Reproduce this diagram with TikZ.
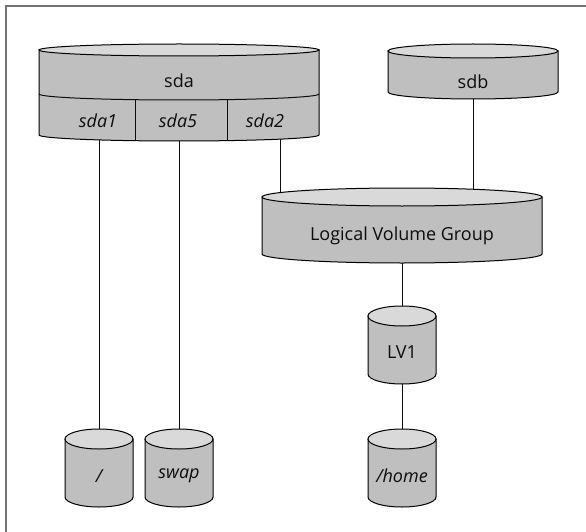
\documentclass[tikz,border=0pt]{standalone}
\usepackage{fontspec}
\setmainfont{Open Sans}
\usepackage{tikz}
\usetikzlibrary{backgrounds,positioning}
\colorlet{sidegray}{black!25}
\colorlet{lidgray}{black!15}
\tikzset{
  diskbody/.style={fill=sidegray,draw=black,line width=1pt},
  disklid/.style={fill=lidgray,draw=black,line width=1pt},
  disklabel/.style={font=\fontsize{18}{21}\selectfont,text=black!95,inner sep=1pt},
  partlabel/.style={disklabel,font=\fontsize{18}{21}\selectfont\itshape},
  link/.style={draw=black!95,line width=1pt},
  frameline/.style={draw=black!55,line width=2pt}
}
% #1 name, #2 centre x, #3 lid centre y, #4 side bottom y, #5 half width, #6 lid radius
\newcommand{\disk}[6]{%
  \filldraw[diskbody] (#2-#5,#3) -- (#2-#5,#4)
    arc[start angle=180,end angle=360,x radius=#5pt,y radius=#6pt] -- (#2+#5,#3) -- cycle;
  \filldraw[disklid] (#2,#3) ellipse[x radius=#5pt,y radius=#6pt];
  \coordinate (#1-top) at (#2,#3+#6);
}

\begin{document}
\begin{tikzpicture}[x=1pt,y=1pt]
    \useasboundingbox (0,0) rectangle (586,-532);

    % Frame (top and left only)
    \draw[frameline] (586,-6) -- (6,-6) -- (6,-532);

    % Disks
    \disk{sda}{179}{-50}{-135}{140}{6}
    \draw[link] (39,-94) arc[start angle=180,end angle=360,x radius=140pt,y radius=6pt];
    \draw[link] (135,-99.7) -- (135,-140.7);
    \draw[link] (227,-99.6) -- (227,-140.6);
    \disk{sdb}{473}{-51}{-92}{85}{7}
    \disk{lvg}{402}{-197}{-254}{140}{9}
    \disk{lv1}{402}{-316}{-374}{34}{10}
    \disk{root}{99}{-439}{-497}{34}{10}
    \disk{swap}{179}{-439}{-497}{34}{10}
    \disk{home}{402}{-439}{-497}{34}{10}

    % Labels
    \node[disklabel] (sda) at (179,-81) {sda};
    \node[partlabel] (sda1) at (98,-121) {sda1};
    \node[partlabel] (sda5) at (178,-121) {sda5};
    \node[partlabel] (sda2) at (265,-121) {sda2};
    \coordinate (sda2-out) at (280,-130);
    \node[disklabel] (sdb) at (473,-82) {sdb};
    \node[disklabel] (lvg) at (402,-236) {Logical Volume Group};
    \node[disklabel] (lv1) at (402,-352) {LV1};
    \node[partlabel] (root) at (99,-476) {/};
    \node[partlabel] (swap) at (179,-476) {swap};
    \node[partlabel] (home) at (402,-476) {/home};

    % Connectors behind the disks
    \begin{scope}[on background layer]
        \draw[link] (root-top) -- (root-top |- sda1);
        \draw[link] (swap-top) -- (swap-top |- sda5);
        \draw[link] (sda2-out) -- (sda2-out |- lvg);
        \draw[link] (sdb) -- (sdb |- lvg);
        \draw[link] (lv1-top) -- (lv1-top |- lvg);
        \draw[link] (home-top) -- (home-top |- lv1);
    \end{scope}
\end{tikzpicture}
\end{document}
